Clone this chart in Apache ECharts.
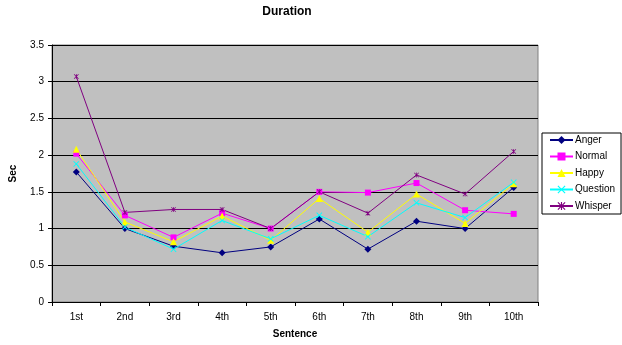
<!DOCTYPE html>
<html><head><meta charset="utf-8">
<script src="https://cdn.jsdelivr.net/npm/echarts@6/dist/echarts.min.js"></script>
<style>html,body{margin:0;padding:0;background:#fff}#c{width:622px;height:345px}</style>
</head><body><div id="c"></div>
<script>
const categories = ['1st','2nd','3rd','4th','5th','6th','7th','8th','9th','10th'];
const anger    = [1.77, 1.00, 0.76, 0.67, 0.75, 1.13, 0.72, 1.10, 1.00, 1.56];
const normal   = [2.02, 1.18, 0.88, 1.21, 1.00, 1.50, 1.49, 1.62, 1.25, 1.20];
const happy    = [2.08, 1.09, 0.82, 1.17, 0.84, 1.41, 0.95, 1.47, 1.07, 1.61];
const question = [1.88, 1.02, 0.72, 1.11, 0.86, 1.18, 0.89, 1.35, 1.15, 1.63];
const whisper  = [3.07, 1.22, 1.26, 1.26, 1.00, 1.50, 1.21, 1.73, 1.47, 2.05];
const yTicks = [0, 0.5, 1, 1.5, 2, 2.5, 3, 3.5];

const xSym = 'path://M0,1L1,0L5,4L9,0L10,1L6,5L10,9L9,10L5,6L1,10L0,9L4,5Z';
const astSym = 'path://M0,1L1,0L5,4L9,0L10,1L6,5L10,9L9,10L5,6L1,10L0,9L4,5ZM4.3,0L5.7,0L5.7,10L4.3,10Z';
const font = 'Liberation Sans';
function mk(name, data, color, symbol, size) {
  return {name, type:'line', data, symbol, symbolSize:size,
    lineStyle:{color, width:1}, itemStyle:{color}, emphasis:{disabled:true}};
}
const chart = echarts.init(document.getElementById('c'));
chart.setOption({
  animation:false,
  textStyle:{fontFamily:font},
  title:{text:'Duration', left:282, top:1, textAlign:'center',
    textStyle:{fontFamily:font, fontSize:12, fontWeight:'bold', color:'#000'}},
  grid:{left:51, right:84, top:45, bottom:43, show:true, backgroundColor:'#C0C0C0', borderColor:'#808080', borderWidth:1},
  legend:{orient:'vertical', left:542, top:133, backgroundColor:'#fff', borderColor:'#000', borderWidth:1,
    padding:[2,6,3,7], itemWidth:23, itemHeight:10, itemGap:6.5,
    textStyle:{fontFamily:font, fontSize:10, color:'#000', padding:[0,0,0,-3]},
    data:['Anger','Normal','Happy','Question','Whisper']},
  xAxis:{type:'category', data:categories, boundaryGap:true,
    name:'Sentence', nameLocation:'middle', nameGap:27,
    nameTextStyle:{fontFamily:font, fontSize:10, fontWeight:'bold', color:'#000'},
    axisLine:{lineStyle:{color:'#000', width:1}},
    axisTick:{show:true, length:4, alignWithLabel:false, lineStyle:{color:'#000'}},
    axisLabel:{fontFamily:font, fontSize:10, color:'#000', margin:10},
    splitLine:{show:false}},
  yAxis:{type:'value', min:yTicks[0], max:yTicks[yTicks.length-1], interval:0.5,
    name:'Sec', nameLocation:'middle', nameGap:34, nameRotate:90,
    nameTextStyle:{fontFamily:font, fontSize:10, fontWeight:'bold', color:'#000'},
    axisLine:{show:true, lineStyle:{color:'#000', width:1}},
    axisTick:{show:true, length:4, lineStyle:{color:'#000'}},
    axisLabel:{fontFamily:font, fontSize:10, color:'#000', margin:8,
      formatter:v=>String(v)},
    splitLine:{show:true, lineStyle:{color:'#000', width:1}}},
  series:[
    mk('Anger', anger, '#000080', 'diamond', 7),
    mk('Normal', normal, '#FF00FF', 'rect', 6),
    mk('Happy', happy, '#FFFF00', 'triangle', 7),
    mk('Question', question, '#00FFFF', xSym, 6),
    mk('Whisper', whisper, '#800080', astSym, 5)
  ]
});
</script></body></html>
